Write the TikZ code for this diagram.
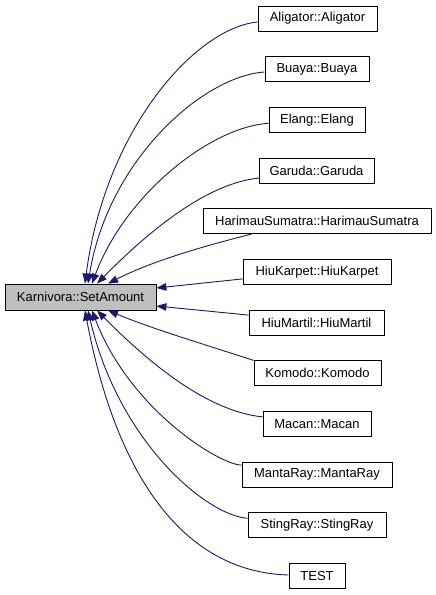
\documentclass[tikz,border=0pt]{standalone}
\usepackage{fontspec}
\setmainfont{Liberation Sans}
\usetikzlibrary{arrows.meta,calc}
\definecolor{edgeblue}{RGB}{25,25,112}
\definecolor{hlgray}{RGB}{191,191,191}
\begin{document}
\begin{tikzpicture}[x=1pt,y=-1pt,
  box/.style={draw=black,line width=0.8pt,minimum height=25pt,inner sep=0pt,font=\fontsize{13}{15}\selectfont},
  hl/.style={box,fill=hlgray,minimum height=26pt},
  conn/.style={draw=edgeblue,line width=0.9pt,-{Triangle[length=10pt,width=7.5pt]},edgeblue}]
\useasboundingbox (0,0) rectangle (436,595);
\node[hl,minimum width=151pt] (karn) at (80.5,297) {Karnivora::SetAmount};
\node[box,minimum width=119pt] (ali) at (317.5,18.5) {Aligator::Aligator};
\node[box,minimum width=104pt] (bua) at (317,69.2) {Buaya::Buaya};
\node[box,minimum width=96pt] (ela) at (317,119.9) {Elang::Elang};
\node[box,minimum width=115pt] (gar) at (316.5,170.5) {Garuda::Garuda};
\node[box,minimum width=228pt] (har) at (317,221.2) {HarimauSumatra::HarimauSumatra};
\node[box,minimum width=148pt] (hka) at (317,271.9) {HiuKarpet::HiuKarpet};
\node[box,minimum width=135pt] (hma) at (316.5,322.6) {HiuMartil::HiuMartil};
\node[box,minimum width=127pt] (kom) at (317.5,373.3) {Komodo::Komodo};
\node[box,minimum width=108pt] (mac) at (317,423.9) {Macan::Macan};
\node[box,minimum width=150pt] (man) at (317,474.6) {MantaRay::MantaRay};
\node[box,minimum width=138pt] (sti) at (317,525.3) {StingRay::StingRay};
\node[box,minimum width=56pt] (tes) at (317,576) {TEST};
% top edges
\draw[conn] ($(ali.west)+(0,3.5)$) .. controls (195,28) and (105,130) .. ($(karn.north)+(4.5,0)$);
\draw[conn] ($(bua.west)+(0,2.8)$) .. controls (203,76) and (108,160) .. ($(karn.north)+(7.5,0)$);
\draw[conn] ($(ela.west)+(0,3.4)$) .. controls (210,127) and (125,195) .. ($(karn.north)+(11.5,0)$);
\draw[conn] ($(gar.west)+(1,7.5)$) .. controls (205,183) and (145,235) .. ($(karn.north)+(16.5,0)$);
\draw[conn] ($(har.south west)+(49,0)$) .. controls (200,247) and (150,262) .. ($(karn.north)+(27.5,0)$);
% side edges
\draw[conn] ($(hka.west)+(0,7)$) -- ($(karn.east)+(0,-9)$);
\draw[conn] ($(hma.west)+(0,-7.5)$) -- ($(karn.east)+(0,9)$);
% bottom edges
\draw[conn] (kom.north west) .. controls (200,343) and (150,328) .. ($(karn.south)+(27.5,0)$);
\draw[conn] ($(mac.west)+(0,-7)$) .. controls (205,411) and (145,359) .. ($(karn.south)+(16.5,0)$);
\draw[conn] ($(man.west)+(0,-9.5)$) .. controls (220,465) and (130,410) .. ($(karn.south)+(11.5,0)$);
\draw[conn] ($(sti.west)+(0,-7)$) .. controls (205,515) and (118,440) .. ($(karn.south)+(7.5,0)$);
\draw[conn] ($(tes.west)+(0,-1)$) .. controls (180,572) and (115,470) .. ($(karn.south)+(4.5,0)$);
\end{tikzpicture}
\end{document}
